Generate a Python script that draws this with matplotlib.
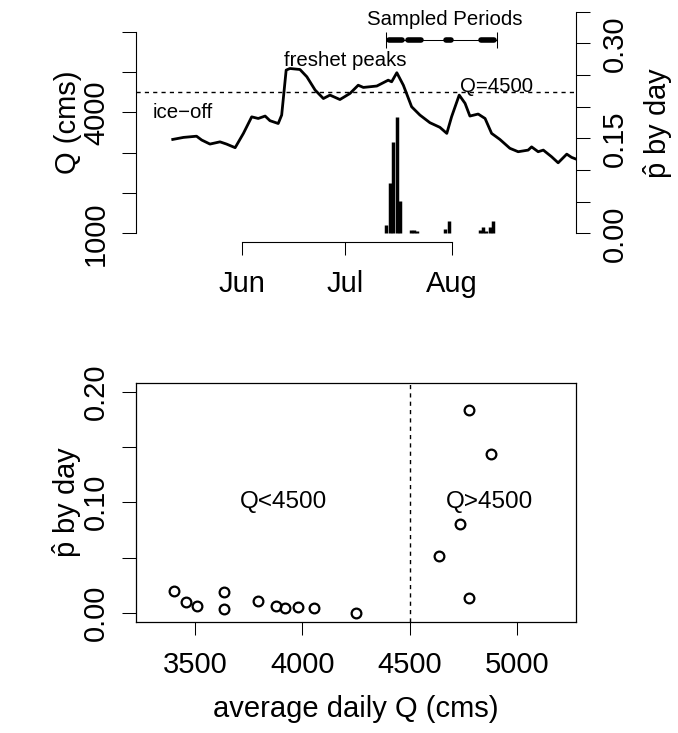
import matplotlib
matplotlib.use("Agg")
import matplotlib.pyplot as plt

plt.rcParams['font.family'] = ['Liberation Sans', 'DejaVu Sans']
plt.rcParams['mathtext.fontset'] = 'custom'
plt.rcParams['mathtext.rm'] = 'Liberation Sans'
plt.rcParams['mathtext.it'] = 'Liberation Sans:italic'

# daily discharge, day counted from Jun 1
flow_day = [-20.0, -16.9, -13.1, -11.6, -9.2, -6.3, -4.4, -1.9, 0.5, 2.9, 4.8, 6.8, 8.2,
            10.6, 11.6, 12.9, 14.0, 16.9, 18.9, 21.3, 23.7, 25.6, 28.5, 31.4, 33.8, 35.3,
            39.2, 42.5, 43.5, 45.0, 46.9, 49.3, 51.7, 54.6, 57.5, 59.5, 60.9, 63.1, 64.8,
            66.2, 68.6, 70.6, 72.5, 74.9, 77.8, 80.2, 83.1, 84.1, 86.0, 87.5, 89.9, 91.8,
            94.3, 95.7, 97.2]
flow_q = [3330, 3380, 3410, 3315, 3215, 3270, 3215, 3125, 3480, 3890, 3850, 3910, 3795,
          3725, 3935, 5050, 5090, 5065, 4885, 4555, 4345, 4430, 4320, 4470, 4675, 4620,
          4655, 4800, 4760, 4985, 4675, 4140, 3935, 3745, 3630, 3480, 3895, 4430, 4225,
          3910, 3960, 3850, 3480, 3330, 3110, 3025, 3065, 3145, 3025, 3065, 2900, 2750,
          2965, 2885, 2835]

# sampled days: day, average daily Q, p-hat
sample_day = [42, 43, 44, 45, 46, 48, 49, 50, 51, 59, 60, 69, 70, 71, 72, 73]
sample_q = [4779, 4733, 4881, 4779, 4636, 4251, 4054, 3980, 3921, 3510, 3636,
            3875, 3795, 3636, 3456, 3400]
sample_p = [0.013, 0.080, 0.144, 0.183, 0.051, 0.000, 0.0045, 0.0057, 0.0042, 0.0066, 0.0189,
            0.006, 0.0105, 0.0033, 0.0099, 0.0195]

period_start = [42.6, 48.2, 59.2, 69.4]
period_end = [46.6, 51.9, 60.7, 73.2]

month_pos = [0, 30, 61]
month_labels = ["Jun", "Jul", "Aug"]

W, H = 678, 733


def rect(l, t, r, b):
    return [l / W, 1 - b / H, (r - l) / W, (b - t) / H]


fig = plt.figure(figsize=(W / 100, H / 100), dpi=100)
dash = (0, (3, 3))

# ---- top panel: discharge + p-hat bars
ax = fig.add_axes(rect(136, 2.8, 576, 242.2))
ax.plot(flow_day, flow_q, color="black", lw=2)
ax.axhline(4500, color="black", lw=1, ls=dash)
ax.set_xlim(-30.66, 96.98)
ax.set_ylim(780, 6720)
for s in ["top", "right"]:
    ax.spines[s].set_visible(False)
ax.spines["left"].set_bounds(1000, 6000)
ax.spines["bottom"].set_bounds(0, 61)
ax.set_yticks([1000, 2000, 3000, 4000, 5000, 6000], ["1000", "", "", "4000", "", ""],
              rotation=90, va="center")
ax.set_xticks(month_pos, month_labels)
ax.tick_params(axis="y", length=10, width=0.75, pad=8.7, labelsize=21)
ax.tick_params(axis="x", length=9, width=0.75, pad=10.7, labelsize=21)
ax.text(-17, 4000, "ice\u2212off", fontsize=14.7, ha="center", va="center")
ax.text(30, 5300, "freshet peaks", fontsize=14.7, ha="center", va="center")
ax.text(74, 4650, "Q=4500", fontsize=14.7, ha="center", va="center")

ax2 = ax.twinx()
ax2.vlines(sample_day, 0, sample_p, color="black", lw=2.5)
ax2.set_ylim(-0.014, 0.364)
for s in ["top", "left", "bottom"]:
    ax2.spines[s].set_visible(False)
ax2.spines["right"].set_bounds(0, 0.35)
ax2.set_yticks([0, 0.05, 0.10, 0.15, 0.20, 0.25, 0.30, 0.35],
               ["0.00", "", "", "0.15", "", "", "0.30", ""], rotation=90, va="center")
ax2.tick_params(axis="y", length=10, width=0.75, pad=7.8, labelsize=21)

y_per = 0.305
ax2.hlines(y_per, 41.9, 74.1, color="black", lw=0.75)
ax2.vlines([41.9, 74.1], y_per - 0.0126, y_per + 0.0126, color="black", lw=0.75)
for s, e in zip(period_start, period_end):
    ax2.plot([s, e], [y_per, y_per], color="black", lw=4, solid_capstyle="round")
ax2.text(59, 0.337, "Sampled Periods", fontsize=14.7, ha="center", va="center")

# ---- bottom panel: p-hat vs Q
ax3 = fig.add_axes(rect(136, 382.7, 576, 621.7))
ax3.plot(sample_q, sample_p, "o", ms=7, mfc="none", mec="black", mew=1.6)
ax3.axvline(4500, color="black", lw=1, ls=dash)
ax3.set_xlim(3224, 5276)
ax3.set_ylim(-0.008, 0.208)
ax3.set_xticks([3500, 4000, 4500, 5000])
ax3.set_yticks([0, 0.05, 0.10, 0.15, 0.20], ["0.00", "", "0.10", "", "0.20"],
               rotation=90, va="center")
ax3.tick_params(axis="y", length=10, width=0.75, pad=8.7, labelsize=21)
ax3.tick_params(axis="x", length=9, width=0.75, pad=11.9, labelsize=21)
for sp in ax3.spines.values():
    sp.set_linewidth(0.9)
ax3.text(3910, 0.1, "Q<4500", fontsize=17.5, ha="center", va="center")
ax3.text(4871, 0.1, "Q>4500", fontsize=17.5, ha="center", va="center")

# axis titles
phat = r"$\hat{\mathrm{p}}$ by day"
fig.text(76 / W, 1 - 122.5 / H, "Q (cms)", fontsize=21, rotation=90,
         rotation_mode="anchor", ha="center", va="baseline")
fig.text(667 / W, 1 - 122.5 / H, phat, fontsize=21, rotation=90,
         rotation_mode="anchor", ha="center", va="baseline")
fig.text(76 / W, 1 - 502 / H, phat, fontsize=21, rotation=90,
         rotation_mode="anchor", ha="center", va="baseline")
fig.text(356 / W, 1 - 717 / H, "average daily Q (cms)", fontsize=21,
         ha="center", va="baseline")

fig.savefig("out.png", dpi=100)
